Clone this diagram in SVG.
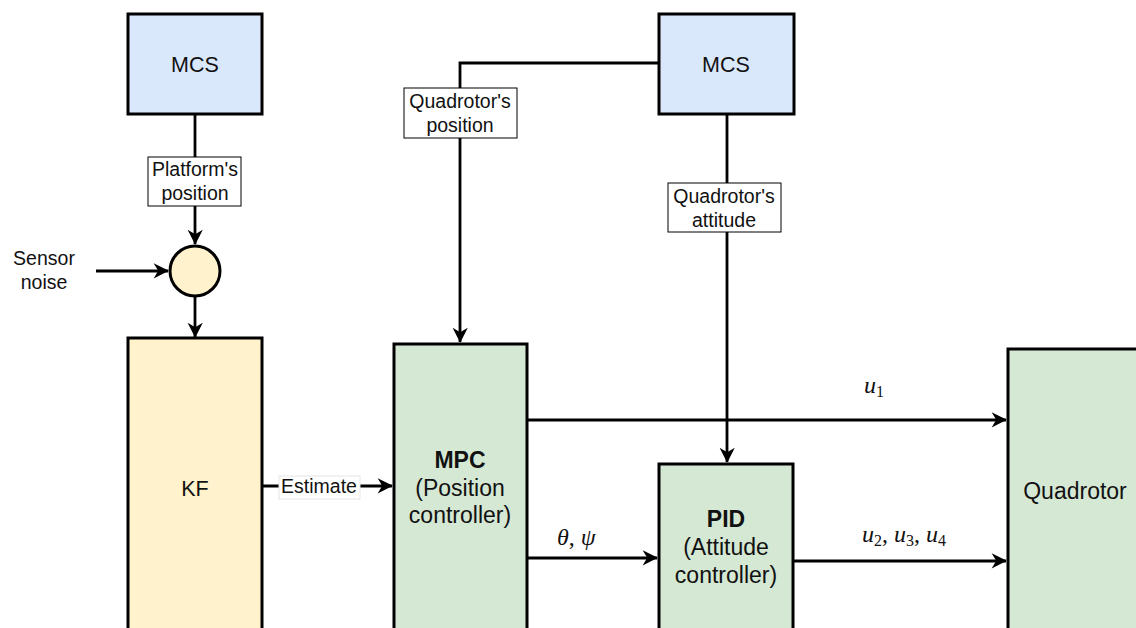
<svg xmlns="http://www.w3.org/2000/svg" width="1136" height="628" viewBox="0 0 1136 628">
<style>
.box{stroke:#000;stroke-width:3}
.blue{fill:#dae8fc}
.yel{fill:#fff2cc}
.grn{fill:#d5e8d4}
.edge{fill:none;stroke:#000;stroke-width:2.8}
.lbl{fill:#fff;stroke:#000;stroke-width:1}
.t{font-family:"Liberation Sans",Arial,sans-serif;fill:#111;text-anchor:middle}
.s22{font-size:21.5px}
.s23{font-size:23px}
.s19{font-size:19.5px}
.m{font-family:"Liberation Serif","Times New Roman",serif;font-style:italic;font-size:24px;fill:#111}
.sub{font-size:16px;font-style:normal}
</style>
<defs>
<marker id="ah" viewBox="0 0 10 10" refX="9" refY="5" markerWidth="8" markerHeight="8" markerUnits="userSpaceOnUse" orient="auto" overflow="visible">
<path d="M0,0 L10,5 L0,10 L3,5 z" fill="#000" transform="scale(1.9) translate(-4.7,-2.5)"/>
</marker>
</defs>
<rect width="1136" height="628" fill="#fff"/>

<g id="connectors">
<path class="edge" d="M195,114 V244" marker-end="url(#ah)"/>
<path class="edge" d="M96,271 H168" marker-end="url(#ah)"/>
<path class="edge" d="M195,297 V337" marker-end="url(#ah)"/>
<path class="edge" d="M659,63 H460 V342" marker-end="url(#ah)"/>
<path class="edge" d="M727,114 V462" marker-end="url(#ah)"/>
<path class="edge" d="M262,486 H392" marker-end="url(#ah)"/>
<path class="edge" d="M527,420 H1006" marker-end="url(#ah)"/>
<path class="edge" d="M527,558 H657" marker-end="url(#ah)"/>
<path class="edge" d="M793,561 H1006" marker-end="url(#ah)"/>
<rect class="lbl" x="148" y="157" width="93" height="49"/>
<text class="t s19" x="195" y="176">Platform's</text>
<text class="t s19" x="195" y="200">position</text>
<rect class="lbl" x="404" y="88" width="113" height="50"/>
<text class="t s19" x="460" y="108">Quadrotor's</text>
<text class="t s19" x="460" y="132">position</text>
<rect class="lbl" x="668" y="183" width="113" height="49"/>
<text class="t s19" x="724" y="203">Quadrotor's</text>
<text class="t s19" x="724" y="227">attitude</text>
<rect x="279" y="476" width="81" height="23" fill="#fff" stroke="#e6e6e6" stroke-width="1"/>
<text class="t s19" x="319" y="493">Estimate</text>
<text class="m" x="557" y="545">θ<tspan font-style="normal">, </tspan>ψ</text>
<text class="m" x="864" y="393">u<tspan class="sub" dy="4">1</tspan></text>
<text class="m" x="862" y="542">u<tspan class="sub" dy="4">2</tspan><tspan font-style="normal" dy="-4">, </tspan>u<tspan class="sub" dy="4">3</tspan><tspan font-style="normal" dy="-4">, </tspan>u<tspan class="sub" dy="4">4</tspan></text>
</g>

<g id="mcs1">
<rect class="box blue" x="128" y="14" width="134" height="100"/>
<text class="t s22" x="195" y="72">MCS</text>
</g>
<g id="mcs2">
<rect class="box blue" x="659" y="14" width="135" height="100"/>
<text class="t s22" x="726" y="72">MCS</text>
</g>
<g id="sum">
<circle class="box yel" cx="195" cy="271" r="25"/>
</g>
<g id="noise">
<text class="t s19" x="44" y="265">Sensor</text>
<text class="t s19" x="44" y="289">noise</text>
</g>
<g id="kf">
<rect class="box yel" x="128" y="338" width="134" height="300"/>
<text class="t s22" x="195" y="496">KF</text>
</g>
<g id="mpc">
<rect class="box grn" x="394" y="344" width="133" height="300"/>
<text class="t s23" x="460" y="468" font-weight="bold">MPC</text>
<text class="t s23" x="460" y="496">(Position</text>
<text class="t s23" x="460" y="523">controller)</text>
</g>
<g id="pid">
<rect class="box grn" x="659" y="464" width="134" height="200"/>
<text class="t s23" x="726" y="527" font-weight="bold">PID</text>
<text class="t s23" x="726" y="555">(Attitude</text>
<text class="t s23" x="726" y="583">controller)</text>
</g>
<g id="quad">
<rect class="box grn" x="1008" y="349" width="140" height="300"/>
<text class="t s23" x="1075" y="499">Quadrotor</text>
</g>
</svg>
